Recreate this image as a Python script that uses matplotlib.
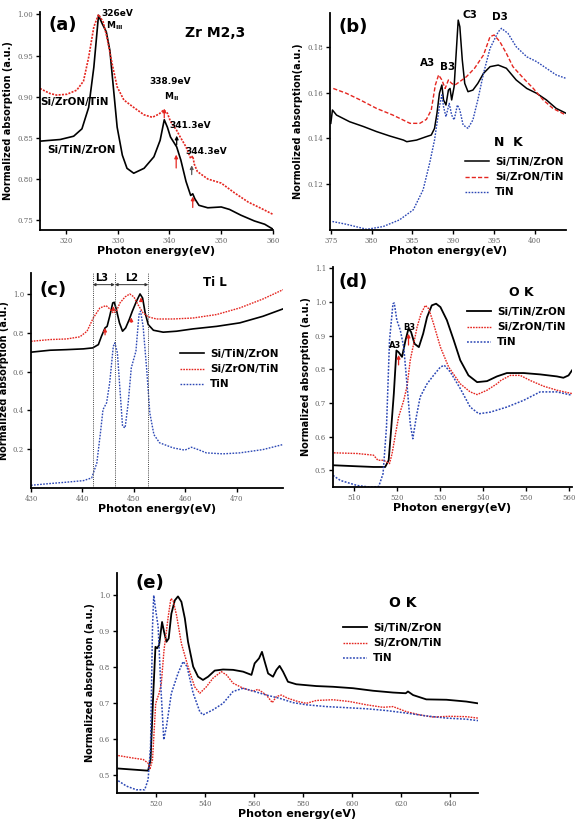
import matplotlib
matplotlib.use("Agg")
import matplotlib.pyplot as plt

W, H = 578, 827

BLACK = "#000000"
RED = "#e52620"
BLUE = "#2b47b5"

labels = ["Si/TiN/ZrON", "Si/ZrON/TiN", "TiN"]

# ---- (a) Zr M2,3 ----
a_x_black = [315.0, 318.9, 321.5, 323.1, 324.4, 325.4, 326.3, 327.0, 327.8, 328.5, 329.1, 329.9,
             330.9, 331.8, 333.1, 335.1, 337.0, 338.2, 339.0, 339.6, 340.2, 341.4, 342.2, 343.2,
             344.1, 344.5, 344.9, 345.7, 347.4, 350.0, 351.6, 353.8, 356.4, 358.4, 360.0]
a_y_black = [0.846, 0.848, 0.852, 0.861, 0.887, 0.936, 0.999, 0.989, 0.979, 0.956, 0.916, 0.863,
             0.829, 0.813, 0.807, 0.813, 0.827, 0.847, 0.872, 0.863, 0.851, 0.839, 0.823, 0.797,
             0.780, 0.782, 0.776, 0.768, 0.765, 0.766, 0.763, 0.756, 0.749, 0.745, 0.739]
a_x_red = [315.0, 316.9, 318.2, 320.2, 322.1, 323.4, 324.4, 325.4, 326.3, 327.2, 327.9, 328.9,
           329.9, 331.2, 333.1, 335.1, 336.7, 338.0, 338.9, 339.6, 340.2, 341.4, 342.0, 343.2,
           344.1, 344.5, 344.8, 345.4, 347.4, 350.0, 352.6, 355.2, 357.8, 360.0]
a_y_red = [0.910, 0.904, 0.902, 0.903, 0.908, 0.919, 0.948, 0.985, 1.000, 0.991, 0.973, 0.941,
           0.912, 0.896, 0.887, 0.878, 0.875, 0.879, 0.884, 0.880, 0.870, 0.859, 0.852, 0.839,
           0.825, 0.828, 0.818, 0.809, 0.800, 0.795, 0.783, 0.772, 0.764, 0.757]
a_arrows = [(339.0, 0.871, 0.889, RED), (341.4, 0.838, 0.856, BLACK), (341.3, 0.810, 0.833, RED),
            (344.3, 0.802, 0.820, "#555555"), (344.5, 0.762, 0.782, RED)]

# ---- (b) N K ----
b_x_black = [375.0, 375.2, 375.7, 377.3, 379.0, 380.6, 382.2, 383.9, 384.3, 385.5, 386.7, 387.3,
             387.7, 388.0, 388.3, 388.6, 388.8, 389.1, 389.4, 389.6, 389.8, 390.1, 390.3, 390.6,
             390.8, 391.1, 391.4, 391.8, 392.4, 393.0, 393.7, 394.5, 395.5, 396.5, 397.7, 399.0,
             400.2, 401.4, 402.6, 403.8]
b_y_black = [0.1466, 0.1524, 0.1502, 0.1473, 0.1452, 0.1430, 0.1411, 0.1393, 0.1386, 0.1393,
             0.1408, 0.1415, 0.1444, 0.1510, 0.1597, 0.1633, 0.1568, 0.1546, 0.1611, 0.1618,
             0.1568, 0.1626, 0.1742, 0.1916, 0.1887, 0.1742, 0.1640, 0.1604, 0.1611, 0.1640,
             0.1684, 0.1713, 0.1720, 0.1706, 0.1655, 0.1618, 0.1597, 0.1568, 0.1531, 0.1510]
b_x_red = [375.3, 376.9, 378.6, 380.6, 382.6, 384.7, 385.9, 386.7, 387.3, 387.8, 388.2, 388.6,
           389.0, 389.4, 389.8, 390.2, 390.8, 391.6, 392.6, 393.7, 394.5, 395.0, 395.7, 396.5,
           397.3, 398.6, 399.8, 401.0, 402.2, 403.8]
b_y_red = [0.1618, 0.1597, 0.1568, 0.1531, 0.1502, 0.1466, 0.1466, 0.1483, 0.1524, 0.1633,
           0.1677, 0.1655, 0.1618, 0.1655, 0.1640, 0.1633, 0.1648, 0.1669, 0.1706, 0.1764,
           0.1844, 0.1851, 0.1822, 0.1771, 0.1713, 0.1662, 0.1618, 0.1568, 0.1531, 0.1502]
b_x_blue = [375.2, 376.9, 379.4, 381.4, 383.4, 385.1, 386.3, 387.1, 387.7, 388.3, 388.6, 388.8,
            389.1, 389.5, 389.8, 390.1, 390.5, 390.8, 391.2, 391.8, 392.4, 393.0, 393.7, 394.5,
            395.5, 395.9, 396.7, 397.7, 399.0, 400.2, 401.4, 402.6, 403.8]
b_y_blue = [0.1038, 0.1026, 0.1004, 0.1016, 0.1045, 0.1089, 0.1176, 0.1292, 0.1393, 0.1539,
            0.1590, 0.1539, 0.1495, 0.1553, 0.1502, 0.1481, 0.1546, 0.1524, 0.1459, 0.1444,
            0.1481, 0.1568, 0.1684, 0.1793, 0.1865, 0.1880, 0.1858, 0.1800, 0.1756, 0.1735,
            0.1706, 0.1677, 0.1662]

# ---- (c) Ti L ----
c_x_black = [430.0, 433.7, 436.9, 440.2, 442.0, 443.1, 443.7, 444.4, 444.8, 445.3, 445.9, 446.2,
             446.6, 447.2, 447.8, 448.4, 449.1, 449.7, 450.5, 451.2, 451.7, 452.2, 452.8, 453.8,
             455.7, 458.3, 461.5, 466.1, 470.6, 475.1, 479.0]
c_y_black = [0.700, 0.710, 0.713, 0.717, 0.722, 0.739, 0.782, 0.825, 0.833, 0.885, 0.954, 0.957,
             0.919, 0.851, 0.808, 0.825, 0.868, 0.911, 0.962, 1.000, 0.979, 0.902, 0.842, 0.813,
             0.803, 0.808, 0.820, 0.833, 0.851, 0.885, 0.923]
c_x_red = [430.0, 433.7, 436.9, 439.5, 440.9, 442.1, 443.4, 444.6, 445.3, 446.0, 446.6, 447.3,
           448.3, 449.2, 450.0, 450.8, 451.8, 452.8, 454.4, 457.6, 461.5, 466.1, 470.6, 475.1, 479.0]
c_y_red = [0.756, 0.765, 0.768, 0.779, 0.808, 0.876, 0.928, 0.940, 0.923, 0.902, 0.911, 0.954,
           0.985, 1.000, 0.985, 0.945, 0.902, 0.882, 0.871, 0.871, 0.876, 0.894, 0.928, 0.974, 1.022]
c_x_blue = [430.0, 433.7, 436.9, 440.2, 441.8, 442.8, 443.5, 444.0, 444.7, 445.3, 446.0, 446.3,
            446.8, 447.3, 447.8, 448.3, 448.9, 449.5, 450.4, 451.0, 451.3, 451.8, 452.5, 453.1,
            453.9, 455.0, 457.6, 459.9, 461.2, 462.5, 464.1, 467.3, 470.6, 475.1, 479.0]
c_y_blue = [0.014, 0.023, 0.030, 0.038, 0.052, 0.129, 0.284, 0.404, 0.439, 0.542, 0.730, 0.748,
            0.696, 0.507, 0.318, 0.310, 0.439, 0.619, 0.705, 0.894, 0.911, 0.833, 0.610, 0.387,
            0.275, 0.233, 0.207, 0.195, 0.210, 0.198, 0.181, 0.176, 0.181, 0.198, 0.224]
c_edges = [442.0, 446.3, 452.8]
c_arrows = [(444.4, 0.775, 0.840), (446.0, 0.900, 0.952), (449.5, 0.840, 0.893), (451.4, 0.952, 0.997)]

# ---- (d) O K ----
d_x_black = [505.4, 510.8, 514.6, 517.3, 518.1, 518.6, 519.3, 519.9, 520.4, 521.2, 522.0, 522.7,
             523.3, 524.1, 525.1, 526.1, 527.0, 528.1, 529.1, 530.1, 531.6, 533.2, 534.7, 536.6,
             538.6, 540.9, 543.2, 545.5, 549.4, 553.2, 557.1, 558.6, 559.8, 560.6]
d_y_black = [0.515, 0.512, 0.510, 0.510, 0.530, 0.609, 0.728, 0.856, 0.851, 0.837, 0.886, 0.921,
             0.911, 0.876, 0.866, 0.906, 0.955, 0.990, 0.995, 0.985, 0.946, 0.886, 0.827, 0.782,
             0.762, 0.765, 0.779, 0.789, 0.789, 0.785, 0.779, 0.775, 0.782, 0.797]
d_x_red = [505.4, 510.8, 514.6, 515.6, 516.9, 518.3, 518.9, 519.7, 520.4, 521.6, 522.4, 523.1,
           523.9, 524.7, 525.6, 526.6, 527.4, 528.5, 530.1, 532.0, 534.7, 537.0, 538.6, 540.9,
           543.2, 544.1, 546.3, 548.6, 550.9, 554.0, 557.1, 560.6]
d_y_red = [0.552, 0.550, 0.545, 0.530, 0.530, 0.520, 0.550, 0.609, 0.658, 0.708, 0.752, 0.827,
           0.876, 0.926, 0.965, 0.990, 0.980, 0.936, 0.866, 0.807, 0.757, 0.733, 0.725, 0.738,
           0.757, 0.767, 0.782, 0.782, 0.767, 0.750, 0.738, 0.728]
d_x_blue = [505.2, 506.9, 510.8, 513.9, 515.8, 516.8, 517.6, 518.3, 519.1, 519.4, 520.0, 520.8,
            521.6, 522.4, 523.1, 523.7, 524.5, 525.4, 527.0, 528.5, 530.1, 531.0, 532.4, 534.7,
            537.0, 539.0, 541.7, 545.5, 549.4, 553.2, 557.1, 560.6]
d_y_blue = [0.485, 0.470, 0.455, 0.450, 0.452, 0.490, 0.629, 0.886, 0.995, 0.997, 0.946, 0.916,
            0.866, 0.748, 0.639, 0.594, 0.658, 0.718, 0.757, 0.782, 0.807, 0.812, 0.792, 0.743,
            0.688, 0.668, 0.673, 0.688, 0.708, 0.733, 0.733, 0.723]
d_arrows = [(520.4, 0.805, 0.851), (522.7, 0.864, 0.914)]

# ---- (e) O K, wide range ----
e_x_black = [504.4, 510.5, 516.6, 517.6, 518.6, 519.6, 520.3, 521.1, 522.3, 523.1, 524.1, 525.0,
             526.1, 527.5, 528.8, 530.2, 531.6, 532.9, 535.0, 537.0, 539.0, 541.1, 543.8, 547.2,
             551.3, 555.4, 558.8, 560.1, 561.9, 563.1, 564.2, 565.6, 567.6, 569.0, 570.3, 571.7,
             573.7, 577.1, 585.3, 592.1, 600.3, 608.4, 616.6, 621.8, 622.7, 624.8, 630.2, 638.4,
             646.5, 651.3]
e_y_black = [0.517, 0.514, 0.511, 0.541, 0.708, 0.855, 0.851, 0.860, 0.924, 0.897, 0.869, 0.878,
             0.947, 0.984, 0.995, 0.980, 0.934, 0.869, 0.800, 0.772, 0.763, 0.772, 0.789, 0.792,
             0.791, 0.786, 0.777, 0.809, 0.823, 0.841, 0.814, 0.781, 0.772, 0.791, 0.802, 0.786,
             0.758, 0.751, 0.746, 0.744, 0.740, 0.733, 0.728, 0.726, 0.731, 0.721, 0.709, 0.708,
             0.703, 0.698]
e_x_red = [504.4, 510.5, 514.6, 516.6, 517.3, 518.4, 519.7, 521.1, 522.0, 523.1, 524.8, 525.9,
           526.8, 528.2, 530.2, 532.9, 535.6, 537.7, 540.4, 543.1, 546.5, 548.6, 551.3, 555.4,
           559.5, 561.5, 564.9, 567.3, 569.0, 571.0, 573.7, 577.8, 581.2, 585.3, 592.1, 598.9,
           605.7, 612.5, 616.6, 622.0, 627.5, 632.9, 639.7, 646.5, 651.3]
e_y_red = [0.553, 0.546, 0.542, 0.532, 0.514, 0.541, 0.698, 0.726, 0.754, 0.846, 0.938, 0.989,
           0.984, 0.943, 0.864, 0.800, 0.744, 0.726, 0.744, 0.768, 0.786, 0.777, 0.754, 0.740,
           0.732, 0.737, 0.721, 0.700, 0.717, 0.721, 0.712, 0.703, 0.698, 0.706, 0.708, 0.703,
           0.694, 0.687, 0.689, 0.675, 0.666, 0.660, 0.662, 0.661, 0.657]
e_x_blue = [504.4, 507.8, 511.8, 515.2, 516.6, 517.6, 518.4, 518.9, 519.7, 520.7, 521.8, 523.0,
            524.1, 526.1, 528.8, 530.9, 532.5, 535.0, 537.7, 539.0, 543.1, 547.2, 551.3, 555.4,
            559.5, 564.9, 570.3, 575.8, 581.2, 589.4, 597.6, 605.7, 613.9, 622.0, 630.2, 638.4,
            646.5, 651.3]
e_y_blue = [0.483, 0.468, 0.458, 0.458, 0.486, 0.578, 0.911, 0.998, 0.957, 0.911, 0.744, 0.597,
            0.634, 0.726, 0.781, 0.814, 0.800, 0.726, 0.675, 0.666, 0.680, 0.698, 0.731, 0.740,
            0.732, 0.721, 0.712, 0.700, 0.694, 0.689, 0.686, 0.683, 0.678, 0.671, 0.663, 0.657,
            0.654, 0.650]

LABEL_FONT = "DejaVu Sans"
TICK_FONT = "DejaVu Serif"

fig = plt.figure(figsize=(W / 100, H / 100), dpi=100)


def px_axes(left, top, right, bottom):
    return fig.add_axes([left / W, 1 - bottom / H, (right - left) / W, (bottom - top) / H])


def ftxt(x, y, s, size=7, ha="center", **kw):
    fig.text(x / W, 1 - y / H, s, fontsize=size, ha=ha, va="center",
             fontweight="bold", family=LABEL_FONT, **kw)


def style(ax, xlim, ylim, xticks, yticks, ytl, ylabel):
    ax.set_xlim(*xlim)
    ax.set_ylim(*ylim)
    for s in ("top", "right"):
        ax.spines[s].set_visible(False)
    for s in ("left", "bottom"):
        ax.spines[s].set_linewidth(1.3)
    ax.set_xticks(xticks)
    ax.set_xticklabels([str(t) for t in xticks])
    ax.set_yticks(yticks)
    ax.set_yticklabels(ytl)
    ax.tick_params(direction="out", length=3, width=1.0, labelsize=5, labelcolor="#666666",
                   pad=2)
    for lab in ax.get_xticklabels() + ax.get_yticklabels():
        lab.set_family(TICK_FONT)
    ax.set_xlabel("Photon energy(eV)", fontsize=8, fontweight="bold", family=LABEL_FONT,
                  labelpad=1)
    ax.set_ylabel(ylabel, fontsize=7, fontweight="bold", family=LABEL_FONT, labelpad=3)


def legend(ax, x, y):
    ax.legend(loc="upper left", bbox_to_anchor=(x / W, 1 - y / H), bbox_transform=fig.transFigure,
              frameon=False, borderpad=0, borderaxespad=0, handlelength=2.3, handletextpad=0.6,
              labelspacing=0.5, prop={"family": LABEL_FONT, "weight": "bold", "size": 7.5})


def up_arrow(ax, x, y0, y1, color):
    ax.annotate("", xy=(x, y1), xytext=(x, y0),
                arrowprops=dict(arrowstyle="-|>", color=color, lw=0.9, mutation_scale=5))


RED_DOT = (0, (1.2, 0.8))
BLUE_DOT = (0, (1.2, 1.0))

# (a)
ax = px_axes(40, 12, 273, 230)
ax.plot(a_x_black, a_y_black, color=BLACK, lw=1.2)
ax.plot(a_x_red, a_y_red, color=RED, lw=1.2, ls=RED_DOT)
for x, y0, y1, col in a_arrows:
    up_arrow(ax, x, y0, y1, col)
style(ax, (315, 360), (0.738, 1.003), [320, 330, 340, 350, 360],
      [1.00, 0.95, 0.90, 0.85, 0.80, 0.75], ["1.00", "0.95", "0.90", "0.85", "0.80", "0.75"],
      "Normalized absorption (a.u.)")
ftxt(63, 25, "(a)", 13)
ftxt(215, 33, "Zr M2,3", 10)
ftxt(117, 13, "326eV", 6.5)
ftxt(115, 26, "M$_{\\mathbf{III}}$", 6.5)
ftxt(170, 82, "338.9eV", 6.5)
ftxt(172, 97, "M$_{\\mathbf{II}}$", 6.5)
ftxt(190, 126, "341.3eV", 6.5)
ftxt(206, 151, "344.3eV", 6.5)
ftxt(40, 102, "Si/ZrON/TiN", 7.5, ha="left")
ftxt(47, 150, "Si/TiN/ZrON", 7.5, ha="left")

# (b)
ax = px_axes(330, 13, 566, 230)
ax.plot(b_x_black, b_y_black, color=BLACK, lw=1.1, label=labels[0])
ax.plot(b_x_red, b_y_red, color=RED, lw=1.0, ls=(0, (3, 1.5)), label=labels[1])
ax.plot(b_x_blue, b_y_blue, color=BLUE, lw=1.0, ls=BLUE_DOT, label=labels[2])
style(ax, (374.9, 403.8), (0.1001, 0.1947), [375, 380, 385, 390, 395, 400],
      [0.18, 0.16, 0.14, 0.12], ["0.18", "0.16", "0.14", "0.12"],
      "Normolized absorption(a.u.)")
legend(ax, 465, 157)
ftxt(353, 27, "(b)", 13)
ftxt(428, 63, "A3", 7.5)
ftxt(448, 67, "B3", 7.5)
ftxt(470, 15, "C3", 7.5)
ftxt(500, 17, "D3", 7.5)
ftxt(508, 142, "N  K", 9)

# (c)
ax = px_axes(31, 273, 283, 488)
ax.plot(c_x_black, c_y_black, color=BLACK, lw=1.2, label=labels[0])
ax.plot(c_x_red, c_y_red, color=RED, lw=1.0, ls=RED_DOT, label=labels[1])
ax.plot(c_x_blue, c_y_blue, color=BLUE, lw=1.0, ls=BLUE_DOT, label=labels[2])
ax.vlines(c_edges, 0, 1.108, colors="#444444", linestyles=(0, (1, 1.2)), lw=0.7)
for x, y0, y1 in c_arrows:
    up_arrow(ax, x, y0, y1, RED)
ax.annotate("", xy=(c_edges[0], 1.048), xytext=(c_edges[1], 1.048),
            arrowprops=dict(arrowstyle="<|-|>", color="#333333", lw=0.7, mutation_scale=4,
                            shrinkA=0, shrinkB=0))
ax.annotate("", xy=(c_edges[1], 1.048), xytext=(c_edges[2], 1.048),
            arrowprops=dict(arrowstyle="<|-|>", color="#333333", lw=0.7, mutation_scale=4,
                            shrinkA=0, shrinkB=0))
style(ax, (430, 479), (0, 1.108), [430, 440, 450, 460, 470],
      [1.0, 0.8, 0.6, 0.4, 0.2], ["1.0", "0.8", "0.6", "0.4", "0.2"],
      "Normalized absorption (a.u.)")
legend(ax, 180, 349)
ftxt(53, 290, "(c)", 13)
ftxt(215, 283, "Ti L", 8.5)
ftxt(102, 278, "L3", 7)
ftxt(132, 278, "L2", 7)

# (d)
ax = px_axes(333, 267, 572, 487)
ax.plot(d_x_black, d_y_black, color=BLACK, lw=1.3, label=labels[0])
ax.plot(d_x_red, d_y_red, color=RED, lw=1.0, ls=RED_DOT, label=labels[1])
ax.plot(d_x_blue, d_y_blue, color=BLUE, lw=1.1, ls=BLUE_DOT, label=labels[2])
for x, y0, y1 in d_arrows:
    up_arrow(ax, x, y0, y1, RED)
style(ax, (505.2, 560.6), (0.4505, 1.104), [510, 520, 530, 540, 550, 560],
      [1.1, 1.0, 0.9, 0.8, 0.7, 0.6, 0.5], ["1.1", "1.0", "0.9", "0.8", "0.7", "0.6", "0.5"],
      "Normalized absorption (a.u.)")
legend(ax, 467, 307)
ftxt(353, 282, "(d)", 13)
ftxt(521, 293, "O K", 9)
ftxt(395, 346, "A3", 6)
ftxt(409, 328, "B3", 6)

# (e)
ax = px_axes(117, 573, 478, 793)
ax.plot(e_x_black, e_y_black, color=BLACK, lw=1.3, label=labels[0])
ax.plot(e_x_red, e_y_red, color=RED, lw=1.0, ls=RED_DOT, label=labels[1])
ax.plot(e_x_blue, e_y_blue, color=BLUE, lw=1.1, ls=BLUE_DOT, label=labels[2])
style(ax, (503.9, 651.3), (0.449, 1.06), [520, 540, 560, 580, 600, 620, 640],
      [1.0, 0.9, 0.8, 0.7, 0.6, 0.5], ["1.0", "0.9", "0.8", "0.7", "0.6", "0.5"],
      "Normalized absorption (a.u.)")
legend(ax, 343, 623)
ftxt(150, 583, "(e)", 13)
ftxt(403, 603, "O K", 10)

fig.savefig("out.png", dpi=100)
